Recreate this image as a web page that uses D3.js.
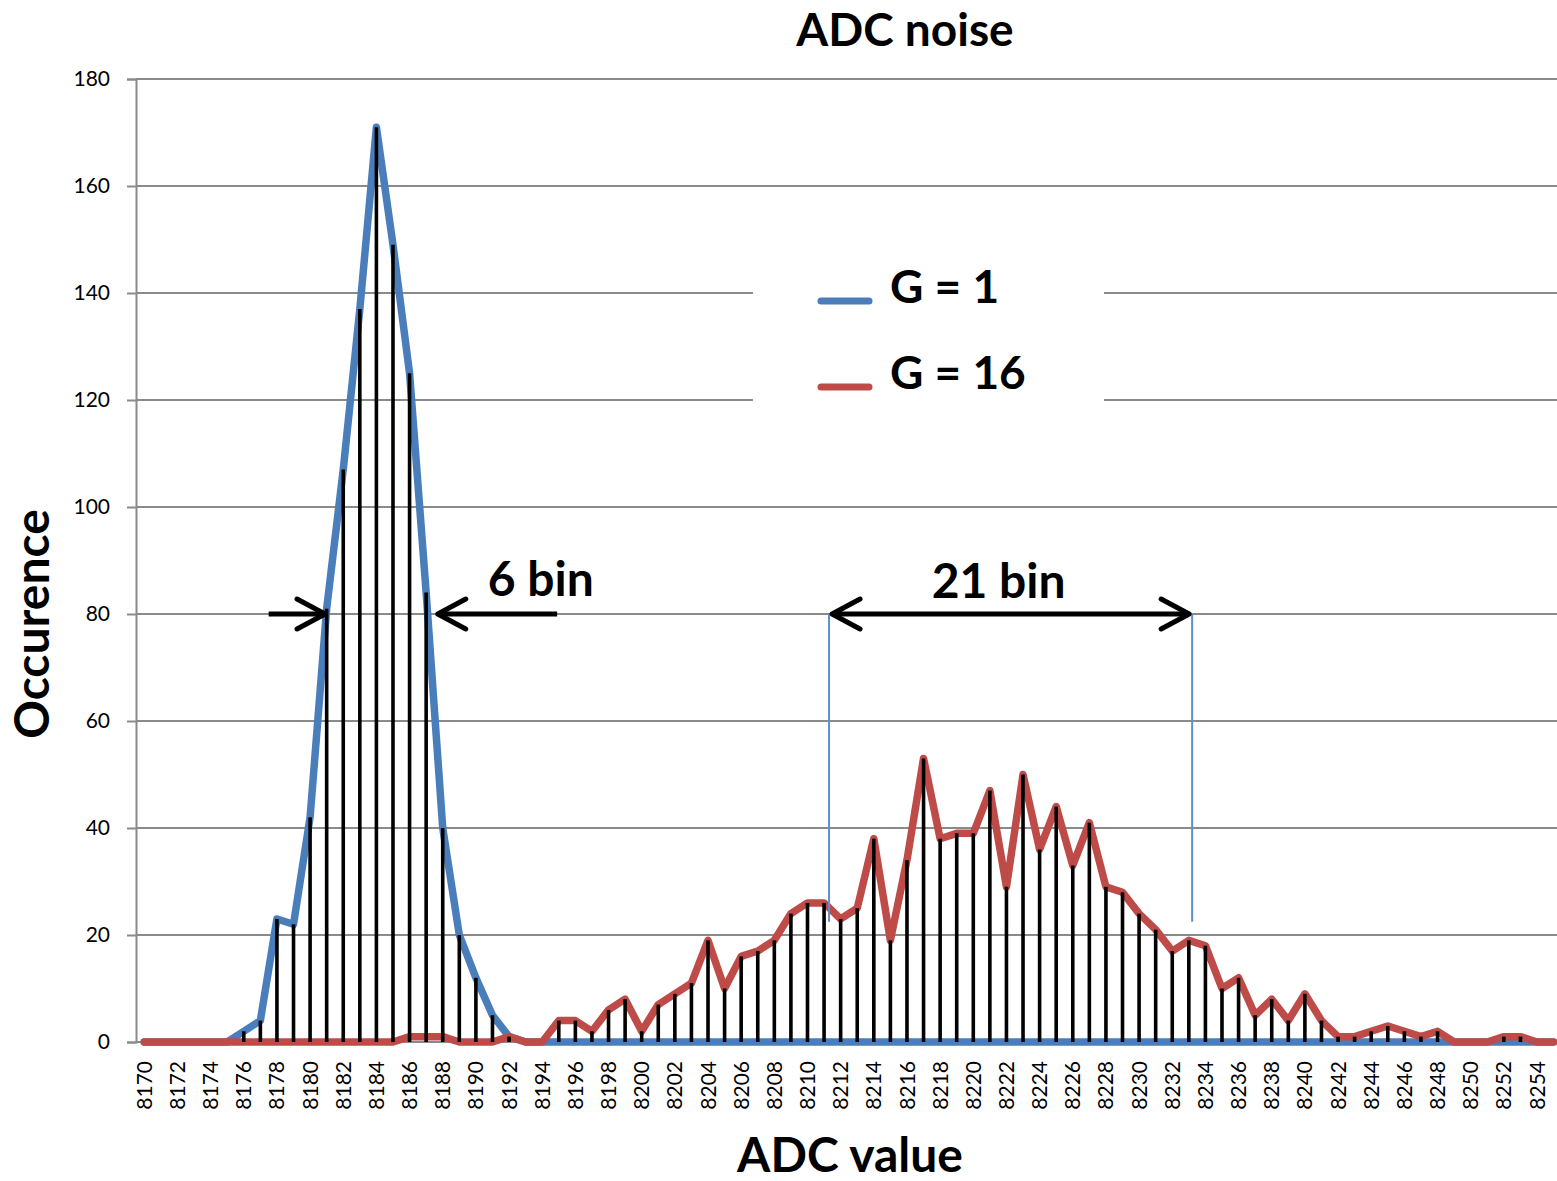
<!DOCTYPE html>
<html>
<head>
<meta charset="utf-8">
<script src="https://cdn.jsdelivr.net/npm/d3@7"></script>
<style>
  body { margin: 0; background: #fff; }
  svg text { font-family: Lato, "Open Sans", sans-serif; fill: #000; }
</style>
</head>
<body>
<svg id="chart" width="1557" height="1181"></svg>
<script>
// --- data: ADC value bins and occurrences per gain ---
const adcValues = d3.range(8170, 8256);   // 8170 .. 8255

const g1Values = [
  0, 0, 0, 0, 0, 0, 2, 4, 23, 22,            // 8170-8179
  42, 81, 107, 137, 171, 149, 125, 84, 40, 20, // 8180-8189
  12, 5, 1, 0, 0, 0, 0, 0, 0, 0,             // 8190-8199
  0, 0, 0, 0, 0, 0, 0, 0, 0, 0,
  0, 0, 0, 0, 0, 0, 0, 0, 0, 0,
  0, 0, 0, 0, 0, 0, 0, 0, 0, 0,
  0, 0, 0, 0, 0, 0, 0, 0, 0, 0,
  0, 0, 0, 0, 0, 0, 0, 0, 0, 0,
  0, 0, 0, 0, 0, 0                            // 8250-8255
];

const g16Values = [
  0, 0, 0, 0, 0, 0, 0, 0, 0, 0,              // 8170-8179
  0, 0, 0, 0, 0, 0, 1, 1, 1, 0,              // 8180-8189
  0, 0, 1, 0, 0, 4, 4, 2, 6, 8,              // 8190-8199
  2, 7, 9, 11, 19, 10, 16, 17, 19, 24,       // 8200-8209
  26, 26, 23, 25, 38, 19, 34, 53, 38, 39,    // 8210-8219
  39, 47, 29, 50, 36, 44, 33, 41, 29, 28,    // 8220-8229
  24, 21, 17, 19, 18, 10, 12, 5, 8, 4,       // 8230-8239
  9, 4, 1, 1, 2, 3, 2, 1, 2, 0,              // 8240-8249
  0, 0, 1, 1, 0, 0                           // 8250-8255
];

const yTicks = [0, 20, 40, 60, 80, 100, 120, 140, 160, 180];
const xTickLabels = adcValues.filter(v => (v - 8170) % 2 === 0);

const seriesNames = ['G = 1', 'G = 16'];
const seriesColors = ['#4a7ebb', '#be4b48'];

// annotation positions, in ADC value / occurence units
const fwhm1 = { left: 8180.9, right: 8187.7, tailL: 8177.5, tailR: 8194.9 };
const fwhm16 = { left: 8211.3, right: 8233.2, bottom: 22.5 };
const arrowLevel = 80;

// --- layout ---
const svg = d3.select('#chart');
const plot = { left: 136, top: 79, bottom: 1042, step: 16.58 };

const x = d3.scaleBand()
  .domain(adcValues)
  .range([plot.left, plot.left + plot.step * adcValues.length])
  .padding(0);
const bw = x.bandwidth();
const cx = v => x(v) + bw / 2;
// fractional ADC value -> pixel
const xv = v => cx(adcValues[0]) + (v - adcValues[0]) * bw;

const y = d3.scaleLinear().domain([0, 180]).range([plot.bottom, plot.top]);

// gridlines
svg.append('g')
  .selectAll('line')
  .data(yTicks)
  .join('line')
  .attr('x1', plot.left)
  .attr('x2', x.range()[1])
  .attr('y1', d => y(d))
  .attr('y2', d => y(d))
  .attr('stroke', '#8a8a8a')
  .attr('stroke-width', 2);

// y axis
const yAxis = svg.append('g')
  .attr('transform', `translate(${plot.left},0)`)
  .call(d3.axisLeft(y).tickValues(yTicks).tickSize(9).tickPadding(17));
yAxis.select('.domain').attr('stroke', '#8a8a8a').attr('stroke-width', 2);
yAxis.selectAll('.tick line').attr('stroke', '#8a8a8a').attr('stroke-width', 2);
yAxis.selectAll('.tick text')
  .style('font-family', 'Lato, sans-serif')
  .style('font-size', '21px')
  .attr('fill', '#000');

// x tick labels (rotated)
svg.append('g')
  .selectAll('text')
  .data(xTickLabels)
  .join('text')
  .attr('transform', d => `translate(${cx(d)},${plot.bottom + 19}) rotate(-90)`)
  .attr('text-anchor', 'end')
  .attr('dy', '0.36em')
  .style('font-size', '21px')
  .text(d => d);

// series lines
const line = d3.line()
  .x((d, i) => cx(adcValues[i]))
  .y(d => y(d));

[g1Values, g16Values].forEach((vals, k) => {
  svg.append('path')
    .datum(vals)
    .attr('d', line)
    .attr('fill', 'none')
    .attr('stroke', seriesColors[k])
    .attr('stroke-width', 7.5)
    .attr('stroke-linejoin', 'round')
    .attr('stroke-linecap', 'round');
});

// drop lines from the highest point of each bin
const dropTops = adcValues.map((v, i) => Math.max(g1Values[i], g16Values[i]));
svg.append('g')
  .selectAll('line')
  .data(adcValues.filter((v, i) => dropTops[i] > 0))
  .join('line')
  .attr('x1', d => cx(d))
  .attr('x2', d => cx(d))
  .attr('y1', y(0))
  .attr('y2', d => y(dropTops[adcValues.indexOf(d)]))
  .attr('stroke', '#000')
  .attr('stroke-width', 3.6);

// --- annotations ---
const ann = svg.append('g');
const ay = y(arrowLevel);

function arrowHead(tipX, dir) {
  // dir = +1 points right, -1 points left
  ann.append('path')
    .attr('d', `M${tipX - dir * 28},${ay - 15} L${tipX},${ay} L${tipX - dir * 28},${ay + 15}`)
    .attr('fill', 'none')
    .attr('stroke', '#000')
    .attr('stroke-width', 5)
    .attr('stroke-linecap', 'round')
    .attr('stroke-linejoin', 'round');
}

// 6 bin (G = 1)
ann.append('line')
  .attr('x1', xv(fwhm1.tailL)).attr('x2', xv(fwhm1.left) - 2)
  .attr('y1', ay).attr('y2', ay)
  .attr('stroke', '#000').attr('stroke-width', 5);
arrowHead(xv(fwhm1.left), 1);
ann.append('line')
  .attr('x1', xv(fwhm1.tailR)).attr('x2', xv(fwhm1.right) + 2)
  .attr('y1', ay).attr('y2', ay)
  .attr('stroke', '#000').attr('stroke-width', 5);
arrowHead(xv(fwhm1.right), -1);
ann.append('text')
  .attr('x', xv(fwhm1.right) + 50)
  .attr('y', ay - 18)
  .style('font-size', '48px')
  .style('font-weight', 'bold')
  .text('6 bin');

// 21 bin (G = 16)
[fwhm16.left, fwhm16.right].forEach(v => {
  ann.append('line')
    .attr('x1', xv(v)).attr('x2', xv(v))
    .attr('y1', ay).attr('y2', y(fwhm16.bottom))
    .attr('stroke', '#5b8fd3').attr('stroke-width', 2);
});
ann.append('line')
  .attr('x1', xv(fwhm16.left) + 5).attr('x2', xv(fwhm16.right) - 5)
  .attr('y1', ay).attr('y2', ay)
  .attr('stroke', '#000').attr('stroke-width', 5);
arrowHead(xv(fwhm16.left) + 3, -1);
arrowHead(xv(fwhm16.right) - 3, 1);
ann.append('text')
  .attr('x', (xv(fwhm16.left) + xv(fwhm16.right)) / 2 - 12)
  .attr('y', ay - 16)
  .attr('text-anchor', 'middle')
  .style('font-size', '48px')
  .style('font-weight', 'bold')
  .text('21 bin');

// --- legend ---
const legend = svg.append('g');
legend.append('rect')
  .attr('x', 753).attr('y', 240)
  .attr('width', 351).attr('height', 190)
  .attr('fill', '#fff');
seriesNames.forEach((name, k) => {
  const ly = 301 + k * 86;
  legend.append('line')
    .attr('x1', 821).attr('x2', 869)
    .attr('y1', ly).attr('y2', ly)
    .attr('stroke', seriesColors[k])
    .attr('stroke-width', 7)
    .attr('stroke-linecap', 'round');
  legend.append('text')
    .attr('x', 890)
    .attr('y', ly + 2)
    .style('font-size', '46px')
    .style('font-weight', 'bold')
    .text(name);
});

// --- titles ---
svg.append('text')
  .attr('x', 905).attr('y', 46)
  .attr('text-anchor', 'middle')
  .style('font-size', '46px')
  .style('font-weight', 'bold')
  .text('ADC noise');

svg.append('text')
  .attr('x', 850).attr('y', 1172)
  .attr('text-anchor', 'middle')
  .style('font-size', '48px')
  .style('font-weight', 'bold')
  .text('ADC value');

svg.append('text')
  .attr('transform', 'translate(49,624) rotate(-90)')
  .attr('text-anchor', 'middle')
  .style('font-size', '48px')
  .style('font-weight', 'bold')
  .text('Occurence');
</script>
</body>
</html>
